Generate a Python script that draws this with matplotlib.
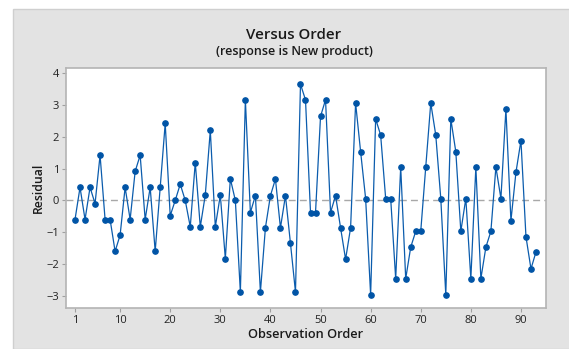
import matplotlib.pyplot as plt
from matplotlib.patches import Rectangle

# Residuals vs observation order
order = list(range(1, 94))
residual = [
    -0.6, 0.41, -0.6, 0.41, -0.1, 1.42, -0.6, -0.6, -1.6, -1.09,
    0.41, -0.6, 0.91, 1.42, -0.6, 0.41, -1.6, 0.41, 2.42, -0.48,
    0.0, 0.51, 0.0, -0.83, 1.19, -0.83, 0.17, 2.2, -0.83, 0.17,
    -1.83, 0.68, 0.0, -2.88, 3.16, -0.38, 0.15, -2.88, -0.86, 0.15,
    0.67, -0.86, 0.15, -1.35, -2.88, 3.65, 3.16, -0.38, -0.38, 2.64,
    3.16, -0.38, 0.15, -0.86, -1.85, -0.86, 3.06, 1.53, 0.06, -2.97,
    2.56, 2.05, 0.06, 0.06, -2.46, 1.05, -2.46, -1.47, -0.97, -0.97,
    1.05, 3.06, 2.05, 0.06, -2.97, 2.56, 1.53, -0.97, 0.06, -2.46,
    1.05, -2.46, -1.47, -0.97, 1.05, 0.06, 2.87, -0.64, 0.88, 1.88,
    -1.14, -2.15, -1.62,
]
x_ticks = [1, 10, 20, 30, 40, 50, 60, 70, 80, 90]
y_ticks = [-3, -2, -1, 0, 1, 2, 3, 4]

plt.rcParams['font.family'] = ['Open Sans', 'DejaVu Sans']

W, H = 569, 349
fig = plt.figure(figsize=(W / 100, H / 100), dpi=100, facecolor="white")

# grey panel behind the chart
panel = Rectangle((13 / W, 0), 1, 1 - 9 / H, transform=fig.transFigure,
                  facecolor="#e3e3e3", edgecolor="#cfcfcf", linewidth=1, zorder=-10)
fig.add_artist(panel)

ax = fig.add_axes([66 / W, 1 - 308 / H, (546 - 66) / W, (308 - 68) / H])
ax.set_zorder(5)
ax.set_facecolor("white")

ax.axhline(0, color="#a8a8a8", linestyle=(0, (5, 3)), linewidth=1, zorder=1)
ax.plot(order, residual, color="#0b5cad", linewidth=0.9, marker="o",
        markersize=3.8, markerfacecolor="#0054a6", markeredgecolor="#0054a6", zorder=3)

ax.set_xlim(-0.8, 95.0)
ax.set_ylim(-3.38, 4.16)
ax.set_xticks(x_ticks)
ax.set_yticks(y_ticks)
ax.tick_params(axis="both", direction="out", length=3, width=0.8, color="#a0a0a0",
               labelsize=8, labelcolor="#222222", pad=2)
for s in ax.spines.values():
    s.set_color("#b4b4b4")
    s.set_linewidth(1.2)

ax.set_xlabel("Observation Order", fontsize=9.2, fontweight="semibold", color="#1a1a1a")
ax.xaxis.set_label_coords((306 - 66) / (546 - 66), -(335 - 308) / (308 - 68))
ax.xaxis.label.set_va("center")
ax.set_ylabel("Residual", fontsize=8.8, fontweight="semibold", color="#1a1a1a")
ax.yaxis.set_label_coords(-(66 - 38) / (546 - 66), (308 - 188) / (308 - 68))
ax.yaxis.label.set_va("center")

fig.text(294 / W, 1 - 35 / H, "Versus Order", ha="center", va="center",
         fontsize=10.8, fontweight="semibold", color="#1a1a1a")
fig.text(294 / W, 1 - 52 / H, "(response is New product)", ha="center", va="center",
         fontsize=9.0, fontweight="semibold", color="#1a1a1a")

fig.savefig("out.png", dpi=100, facecolor=fig.get_facecolor())
